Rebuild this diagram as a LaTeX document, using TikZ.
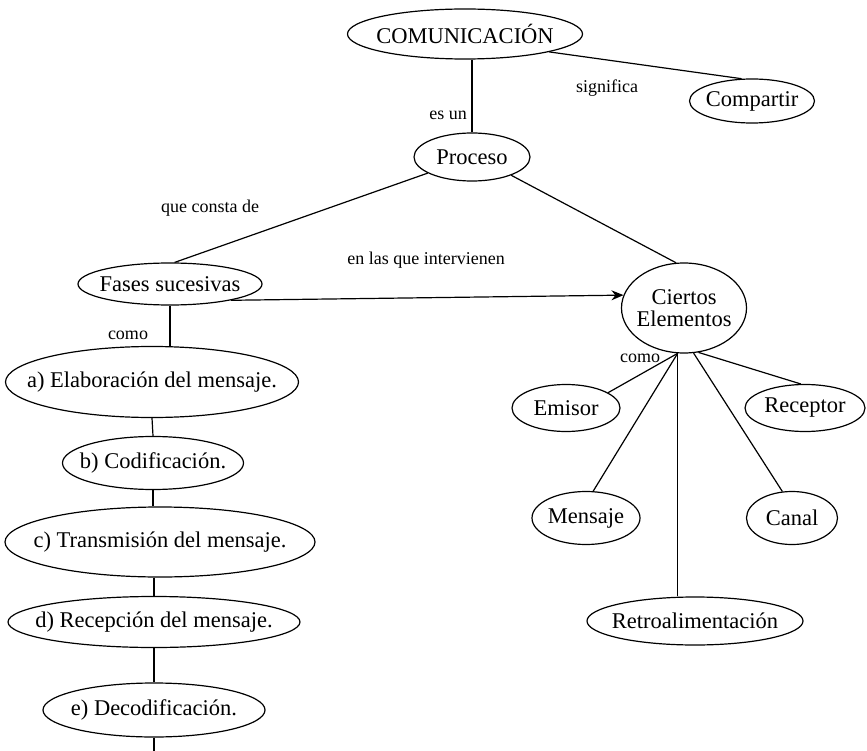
\documentclass[tikz,border=0pt]{standalone}
\usepackage{fontspec}
\setmainfont{Liberation Serif}
\usetikzlibrary{shapes.geometric,arrows.meta}
\newcommand{\zw}[1]{\makebox[0pt][c]{#1}}
\begin{document}
\begin{tikzpicture}[x=1pt,y=-1pt,
  el/.style={draw,ellipse,inner sep=0pt,line width=1.2pt,font=\fontsize{22.5}{24}\selectfont,align=center},
  lbl/.style={font=\fontsize{18}{20}\selectfont,inner sep=0pt},
  ln/.style={line width=1.2pt}]
\useasboundingbox (0,0) rectangle (867,751);
\node[el,minimum width=235,minimum height=50] (com) at (465,34) {\zw{COMUNICACIÓN}};
\node[el,minimum width=125,minimum height=44] (comp) at (752,101) {\zw{Compartir}};
\node[el,minimum width=116,minimum height=48] (proc) at (472,157) {\zw{Proceso}};
\node[el,minimum width=184,minimum height=42] (fas) at (170,284) {\zw{Fases sucesivas}};
\node[el,minimum width=125,minimum height=90] (ce) at (684,308) {\zw{Ciertos}\\[-2pt]\zw{Elementos}};
\node[el,minimum width=108,minimum height=47] (emi) at (566,408) {\zw{Emisor}};
\node[el,minimum width=120,minimum height=47] (rec) at (805,408) {\zw{Receptor}};
\node[el,minimum width=108,minimum height=53] (men) at (586,518) {\zw{Mensaje}};
\node[el,minimum width=91,minimum height=53] (can) at (792,518) {\zw{Canal}};
\node[el,minimum width=216,minimum height=48] (ret) at (695,621) {\zw{Retroalimentación}};
\node[el,minimum width=293,minimum height=71] (a) at (152,382) {\zw{a) Elaboración del mensaje.}};
\node[el,minimum width=181,minimum height=53] (b) at (153,463) {\zw{b) Codificación.}};
\node[el,minimum width=310,minimum height=70] (c) at (160,542) {\zw{c) Transmisión del mensaje.}};
\node[el,minimum width=292,minimum height=51] (d) at (154,622) {\zw{d) Recepción del mensaje.}};
\node[el,minimum width=222,minimum height=54] (e) at (154,710) {\zw{e) Decodificación.}};
\coordinate (end) at (154,751);

\node[lbl] (l1) at (448,115) {es un};
\node[lbl] (l2) at (607,88) {significa};
\node[lbl] (l3) at (210,208) {que consta de};
\node[lbl] (l4) at (426,260) {en las que intervienen};
\node[lbl] (l5) at (128,335) {como};
\node[lbl] (l6) at (640,358) {como};

\draw[ln] (proc.north) -- (proc.north |- com.south);
\draw[ln] (com.-12) -- (comp.115);
\draw[ln] (proc.200) -- (fas.78);
\draw[ln] (proc.-25) -- (ce.100);
\draw[ln,-{Stealth[length=12pt,width=10pt]}] (fas.-15) -- (ce.168);
\draw[ln] (fas.south) -- (fas.south |- a.north);
\draw[ln] (a.south) -- (b.north);
\draw[ln] (b.south) -- (b.south |- c.north);
\draw[ln] (c.south -| d.south) -- (d.north);
\draw[ln] (d.south) -- (e.north);
\draw[ln] (e.south) -- (end);
\draw[ln] (emi.20) -- (ce.-98);
\draw[ln] (men.75) -- (ce.-98);
\draw[ln] (ret.north -| ce.-98) -- (ce.-98);
\draw[ln] (can.110) -- (ce.-78);
\draw[ln] (rec.100) -- (ce.-72);
\end{tikzpicture}
\end{document}
